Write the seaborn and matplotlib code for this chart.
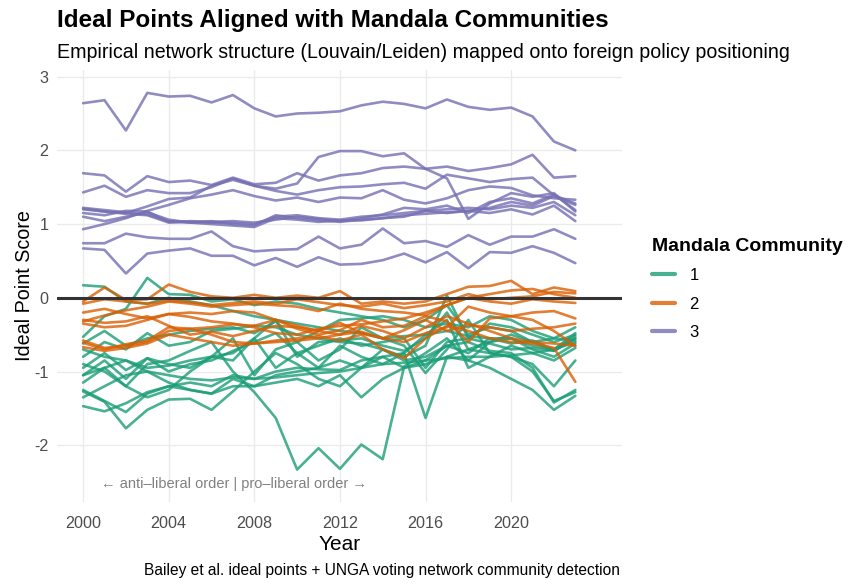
import numpy as np
import pandas as pd
import matplotlib
matplotlib.use("Agg")
import matplotlib.pyplot as plt
import seaborn as sns
from matplotlib.lines import Line2D

years = list(range(2000, 2024))

# Community 3 (purple)
c3 = {
    "C3a": [2.64,2.68,2.27,2.78,2.73,2.74,2.65,2.75,2.57,2.46,2.50,2.51,2.53,2.61,2.66,2.63,2.57,2.69,2.59,2.55,2.58,2.46,2.12,2.00],
    "C3b": [1.69,1.66,1.44,1.65,1.57,1.59,1.53,1.63,1.54,1.56,1.69,1.59,1.66,1.69,1.76,1.78,1.75,1.78,1.72,1.76,1.81,1.94,1.63,1.65],
    "C3c": [1.43,1.52,1.37,1.46,1.42,1.42,1.50,1.62,1.52,1.45,1.40,1.46,1.50,1.51,1.54,1.56,1.48,1.67,1.62,1.57,1.61,1.63,1.39,1.28],
    "C3d": [1.20,1.17,1.15,1.24,1.34,1.36,1.52,1.60,1.52,1.48,1.55,1.91,1.99,1.99,1.92,1.96,1.75,1.62,1.07,1.28,1.42,1.37,1.42,1.17],
    "C3e": [0.93,1.00,1.08,1.18,1.26,1.35,1.40,1.46,1.38,1.32,1.36,1.30,1.36,1.35,1.46,1.33,1.28,1.35,1.46,1.51,1.49,1.39,1.35,1.33],
    "C3f": [1.22,1.19,1.16,1.13,1.04,1.03,1.02,1.02,1.00,1.10,1.12,1.08,1.06,1.10,1.12,1.15,1.18,1.20,1.22,1.20,1.25,1.22,1.30,1.12],
    "C3g": [1.21,1.17,1.14,1.12,1.02,1.04,1.03,1.04,1.02,1.06,1.10,1.07,1.04,1.08,1.13,1.22,1.20,1.25,1.15,1.30,1.35,1.28,1.40,1.19],
    "C3h": [1.10,1.04,1.10,1.16,1.06,1.02,1.04,1.00,0.98,1.12,1.08,1.05,1.03,1.06,1.08,1.10,1.18,1.15,1.18,1.22,1.30,1.25,1.38,1.26],
    "C3i": [1.15,1.12,1.18,1.17,1.03,1.02,1.00,0.98,0.96,1.08,1.06,1.03,1.05,1.05,1.08,1.12,1.14,1.16,1.18,1.15,1.20,1.13,1.25,1.04],
    "C3j": [0.74,0.74,0.87,0.82,0.80,0.80,0.90,0.70,0.63,0.65,0.66,0.83,0.67,0.72,0.94,0.74,0.77,0.69,0.85,0.72,0.83,0.83,0.93,0.80],
    "C3k": [0.67,0.65,0.33,0.60,0.64,0.67,0.57,0.57,0.44,0.54,0.42,0.55,0.45,0.46,0.51,0.60,0.48,0.62,0.40,0.62,0.61,0.70,0.61,0.47],
}

# Community 2 (orange)
c2 = {
    "C2a": [-0.05,0.14,-0.03,-0.02,0.18,0.08,0.02,0.00,0.04,0.00,0.03,0.00,0.09,-0.08,-0.05,-0.08,-0.05,0.05,0.15,0.16,0.23,0.05,0.14,0.09],
    "C2b": [-0.08,-0.02,-0.05,-0.08,-0.04,-0.06,-0.10,-0.07,-0.05,-0.08,-0.02,-0.06,-0.10,-0.12,-0.08,-0.14,-0.10,-0.05,0.05,-0.02,0.00,0.02,0.08,0.06],
    "C2c": [-0.32,-0.24,-0.17,-0.12,-0.05,-0.08,-0.12,-0.10,-0.08,-0.10,-0.12,-0.18,-0.08,-0.15,-0.18,-0.20,-0.24,-0.10,0.00,-0.05,-0.08,-0.02,-0.05,-0.07],
    "C2d": [-0.35,-0.40,-0.38,-0.30,-0.22,-0.20,-0.22,-0.18,-0.20,-0.30,-0.42,-0.50,-0.44,-0.30,-0.40,-0.38,-0.25,-0.32,-0.60,-0.28,-0.25,-0.20,-0.18,-0.28],
    "C2e": [-0.30,-0.34,-0.32,-0.25,-0.38,-0.50,-0.46,-0.52,-0.45,-0.38,-0.40,-0.45,-0.34,-0.48,-0.55,-0.44,-0.30,-0.45,-0.37,-0.40,-0.45,-0.42,-0.40,-0.35],
    "C2f": [-0.58,-0.68,-0.65,-0.60,-0.45,-0.42,-0.40,-0.36,-0.38,-0.30,-0.38,-0.45,-0.50,-0.46,-0.55,-0.60,-0.48,-0.40,-0.12,-0.20,-0.25,-0.30,-0.45,-0.65],
    "C2g": [-0.61,-0.70,-0.63,-0.58,-0.40,-0.42,-0.50,-0.60,-0.62,-0.58,-0.55,-0.52,-0.58,-0.50,-0.70,-0.82,-0.55,-0.38,-0.45,-0.55,-0.60,-0.62,-0.68,-1.14],
    "C2h": [-0.67,-0.72,-0.68,-0.62,-0.50,-0.55,-0.60,-0.65,-0.62,-0.60,-0.58,-0.55,-0.50,-0.38,-0.45,-0.55,-0.40,-0.25,-0.35,-0.45,-0.55,-0.60,-0.62,-0.65],
    "C2i": [-0.20,-0.15,-0.22,-0.28,-0.22,-0.26,-0.32,-0.35,-0.40,-0.48,-0.50,-0.42,-0.38,-0.36,-0.32,-0.28,-0.20,-0.10,0.00,0.05,0.10,0.12,0.05,0.00],
}

# Community 1 (green)
c1 = {
    "C1a": [0.17,0.15,-0.05,-0.08,0.00,-0.05,-0.10,-0.18,-0.25,-0.30,-0.35,-0.40,-0.45,-0.48,-0.55,-0.52,-0.50,-0.45,-0.52,-0.55,-0.62,-0.58,-0.70,-0.60],
    "C1b": [-0.53,-0.25,-0.15,0.27,0.05,0.04,-0.05,-0.02,-0.10,-0.05,-0.08,-0.15,-0.20,-0.25,-0.30,-0.40,-0.30,-0.10,-0.50,-0.40,-0.45,-0.60,-0.72,-0.55],
    "C1c": [-0.80,-0.60,-0.70,-0.48,-0.65,-0.60,-0.45,-0.42,-0.38,-0.40,-0.50,-0.55,-0.60,-0.62,-0.70,-0.80,-0.65,0.03,-0.55,-0.35,-0.40,-0.50,-0.60,-0.50],
    "C1d": [-0.70,-0.80,-0.85,-0.95,-0.92,-0.85,-0.80,-0.75,-0.55,-0.30,-0.80,-0.60,-0.58,-0.55,-0.65,-0.72,-0.55,-0.20,-0.70,-0.60,-0.55,-0.65,-0.70,-0.48],
    "C1e": [-0.95,-0.75,-0.98,-0.82,-1.00,-0.90,-0.85,-0.72,-0.60,-0.48,-0.75,-0.95,-0.65,-0.80,-0.90,-0.75,-0.50,-0.30,-0.95,-0.80,-0.65,-0.75,-0.85,-0.68],
    "C1f": [-1.05,-0.85,-1.10,-0.82,-0.90,-0.95,-0.80,-0.55,-1.05,-0.70,-0.60,-0.85,-0.70,-0.40,-0.55,-0.65,-1.02,-0.70,-0.30,-0.75,-0.80,-0.90,-1.20,-0.85],
    "C1g": [-1.15,-0.95,-1.20,-0.90,-0.85,-0.72,-0.60,-1.00,-1.28,-1.63,-2.33,-2.04,-2.32,-1.99,-2.19,-0.93,-0.75,-0.55,-0.85,-0.60,-0.50,-0.60,-0.55,-0.58],
    "C1h": [-1.25,-1.40,-1.55,-1.30,-1.20,-1.25,-1.30,-1.10,-1.20,-1.05,-1.00,-0.95,-0.85,-0.95,-0.80,-0.75,-1.63,-0.80,-0.70,-0.75,-0.80,-1.00,-1.40,-1.28],
    "C1i": [-1.47,-1.54,-1.43,-1.28,-1.20,-1.15,-1.20,-1.05,-1.10,-1.00,-0.95,-0.97,-0.98,-0.85,-0.80,-0.95,-0.90,-0.80,-0.85,-0.95,-1.10,-1.25,-1.52,-1.33],
    "C1j": [-1.27,-1.41,-1.77,-1.52,-1.38,-1.37,-1.52,-1.27,-1.00,-0.75,-0.90,-1.10,-1.20,-0.95,-0.70,-0.85,-0.80,-0.65,-0.60,-0.72,-0.75,-0.95,-1.42,-1.25],
    "C1k": [-0.62,-0.45,-0.65,-0.55,-0.50,-0.45,-0.42,-0.40,-0.48,-0.32,-0.60,-0.45,-0.30,-0.28,-0.25,-0.30,-0.40,-0.35,-0.40,-0.25,-0.30,-0.45,-0.55,-0.40],
    "C1l": [-1.35,-1.20,-1.05,-1.00,-1.15,-1.25,-1.30,-1.20,-1.20,-1.15,-1.10,-1.20,-1.05,-1.35,-1.10,-0.95,-0.85,-0.65,-0.75,-0.55,-0.55,-0.70,-0.80,-0.62],
    "C1m": [-0.90,-1.00,-1.20,-1.35,-1.25,-1.00,-0.80,-0.85,-0.55,-0.95,-0.75,-0.65,-0.55,-0.65,-0.60,-0.55,-0.95,-0.60,-0.55,-0.62,-0.70,-0.68,-0.72,-0.55],
    "C1n": [-1.05,-0.95,-0.85,-1.00,-1.05,-1.10,-1.12,-1.08,-1.10,-1.08,-1.05,-1.02,-1.00,-0.95,-0.90,-0.88,-0.85,-0.82,-0.80,-0.80,-0.78,-0.75,-0.70,-0.52],
}

community_labels = ["1", "2", "3"]
community_colors = ["#1B9E77", "#D95F02", "#7570B3"]
x_breaks = [2000, 2004, 2008, 2012, 2016, 2020]
y_breaks = [-2, -1, 0, 1, 2, 3]

rows = []
for comm, group in zip(community_labels, [c1, c2, c3]):
    for country, vals in group.items():
        for yr, v in zip(years, vals):
            rows.append({"year": yr, "ideal": v, "country": country, "community": comm})
df = pd.DataFrame(rows)

sns.set_theme(style="white")
plt.rcParams["font.family"] = ["Liberation Sans", "DejaVu Sans"]
plt.rcParams["axes.unicode_minus"] = False
plt.rcParams["text.color"] = "black"
plt.rcParams["axes.labelcolor"] = "black"

W, H = 862, 588
fig = plt.figure(figsize=(W / 100, H / 100), dpi=100)
ax = fig.add_axes([57 / W, 1 - 502 / H, (622 - 57) / W, (502 - 70) / H])

ax.set_xlim(1998.78, 2025.18)
ax.set_ylim(-2.77, 3.09)
ax.set_xticks(x_breaks)
ax.set_yticks(y_breaks)
ax.grid(True, color="#EBEBEB", linewidth=1.0)
ax.set_axisbelow(True)
for s in ax.spines.values():
    s.set_visible(False)

palette = dict(zip(community_labels, community_colors))
sns.lineplot(data=df, x="year", y="ideal", hue="community", units="country",
             estimator=None, palette=palette, hue_order=community_labels,
             linewidth=1.9, alpha=0.8, ax=ax, legend=False)

ax.axhline(0, color="#333333", linewidth=2.2, zorder=5)

ax.text(2007.07, -2.52, "\u2190 anti\u2013liberal order | pro\u2013liberal order \u2192",
        ha="center", va="center", fontsize=10.5, color="#808080")

ax.tick_params(axis="both", length=0, labelsize=11.6, labelcolor="#4D4D4D")
ax.tick_params(axis="x", pad=10)
ax.tick_params(axis="y", pad=6)
ax.set_xlabel("Year", fontsize=15, color="black", labelpad=3)
ax.set_ylabel("Ideal Point Score", fontsize=14.2, color="black", labelpad=0)

fig.text(57 / W, 1 - 21 / H, "Ideal Points Aligned with Mandala Communities",
         fontsize=17.5, fontweight="bold", ha="left", va="center", color="black")
fig.text(57 / W, 1 - 52 / H,
         "Empirical network structure (Louvain/Leiden) mapped onto foreign policy positioning",
         fontsize=14.1, ha="left", va="center", color="black")
fig.text(620 / W, 1 - 570 / H,
         "Bailey et al. ideal points + UNGA voting network community detection",
         fontsize=11.2, ha="right", va="center", color="black")

handles = [Line2D([0], [0], color=c, linewidth=3, alpha=0.8) for c in community_colors]
leg = fig.legend(handles, community_labels, title="Mandala Community",
                 loc="upper left", bbox_to_anchor=(637 / W, 1 - 223 / H),
                 frameon=False, fontsize=12, title_fontsize=14,
                 handlelength=1.35, handletextpad=0.9, labelspacing=0.8,
                 alignment="left")
leg.get_title().set_fontweight("bold")
leg.get_title().set_color("black")
for t in leg.get_texts():
    t.set_color("black")

fig.savefig("out.png", dpi=100)
